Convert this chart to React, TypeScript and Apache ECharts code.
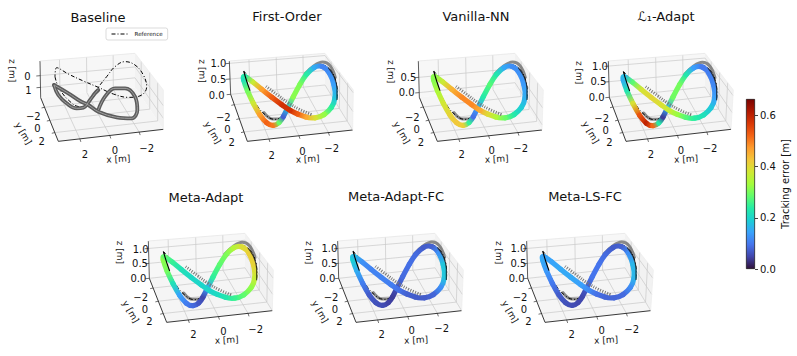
import React, { useEffect, useRef } from "react";
import * as echarts from "echarts";

// Trajectory, in panel units (1 unit = 1/3 px)
const pathX = [157,165,180,200,220,240,260,275,285,300,320,340,360,385,410,427,437,433,415,390,360,335,310,290,260,230,200,175];
const pathY = [225,255,290,330,360,377,375,360,340,310,270,235,210,195,205,235,275,310,335,352,355,347,337,325,303,280,255,235];

// Tracking error [m] at each trajectory point
const errFirstOrder = [.17,.26,.33,.42,.52,.53,.48,.1,.05,.3,.33,.28,.2,.11,.11,.13,.15,.2,.28,.36,.42,.5,.56,.6,.56,.5,.44,.3];
const errVanilla = [.3,.32,.36,.4,.42,.43,.4,.1,.08,.2,.27,.28,.18,.12,.12,.13,.14,.17,.2,.26,.32,.37,.43,.48,.5,.48,.42,.33];
const errL1 = [.14,.17,.28,.5,.58,.62,.42,.05,.03,.27,.32,.28,.18,.1,.1,.11,.12,.16,.2,.23,.25,.3,.35,.38,.4,.41,.36,.2];
const errMetaAdapt = [.3,.33,.27,.17,.12,.09,.08,.05,.05,.22,.27,.29,.32,.38,.41,.42,.4,.34,.3,.27,.24,.22,.2,.2,.2,.21,.23,.27];
const errMetaAdaptFC = [.2,.18,.13,.08,.06,.06,.05,.04,.04,.08,.09,.09,.08,.06,.09,.16,.2,.16,.09,.07,.07,.07,.08,.1,.11,.11,.11,.14];
const errMetaLSFC = [.15,.15,.12,.08,.06,.06,.05,.05,.05,.09,.1,.09,.08,.06,.09,.15,.18,.15,.09,.08,.08,.08,.1,.13,.15,.15,.15,.14];

// Reference and flown traces
const refX = [163,175,200,230,255,275,295,320,345,370,395,420,438,442,425,400,370,335,300,270,230,195,163];
const refY = [215,265,315,348,358,350,320,270,230,205,195,208,245,285,320,340,350,345,330,310,280,250,215];
const refTipX = [161,170,180];
const refTipY = [213,243,272];
const refLoopX = [415,433,441,441];
const refLoopY = [203,232,265,300];
const traceTopX = [345,372,398,420,436];
const traceTopY = [222,197,186,197,232];
const traceLowX = [222,248,268,286];
const traceLowY = [338,357,357,338];
const hatchX = [228,260,295,330,365];
const hatchY = [259,283,309,329,344];

const baseRefX = [165,175,205,240,265,295,320,345,375,405,430,440,425,385,340,295,250,205,170,165];
const baseRefY = [230,260,300,320,310,262,230,200,185,195,225,260,285,292,282,262,243,222,203,230];
const baseTraceAX = [162,175,200,230,250,270,285,295];
const baseTraceAY = [255,285,310,325,323,300,280,270];
const baseTraceBX = [162,205,240,265,295,350,395,412,405,375,345,315,295];
const baseTraceBY = [255,280,303,315,335,352,355,330,290,265,265,290,330];
const baseDotX = [295,340,400];
const baseDotY = [332,350,358];

// Tick labels
const xTicks = ["2", "0", "\u22122"];
const yTicks = ["\u22122", "0", "2"];
const barTicks = [0, 0.2, 0.4, 0.6];
const errorMax = 0.665;

const turbo = ["#30123b","#4145ab","#4675ed","#39a2fc","#1bcfd4","#24eca6","#61fc6c","#a4fc3b","#d1e834","#f3c63a","#fe9b2d","#f36315","#d93806","#b11901","#7a0402"];
const errColor = (e: number) => echarts.color.lerp(Math.min(1, e / errorMax), turbo) as string;

type Pt = [number, number];
const lerp = (a: Pt, b: Pt, t: number): Pt => [a[0] + (b[0] - a[0]) * t, a[1] + (b[1] - a[1]) * t];

const FONT = "'DejaVu Sans'";
const xF = [0.205, 0.49, 0.77];
const yF = [0.22, 0.52, 0.8];

const panels = [
  { title: "Baseline", err: null, ox: 0, oy: 0, cx: 98, cy: 17, dx: 0, dy: 0,
    LT: [120,183], LB: [122,293], FL: [175,424], FR: [490,388],
    z: [["0",0.4,82,228],["1",0.72,85,271]], xl: [[255,462],[345,452],[440,445]], yl: [[100,350],[112,385],[125,425]],
    xn: [355,477], yn: [70,400], zn: [37,212] },
  { title: "First-Order", err: errFirstOrder, ox: 190, oy: 0, cx: 287, cy: 16, dx: 0, dy: 0,
    LT: [118,183], LB: [122,283], FL: [172,424], FR: [488,390],
    z: [["1.0",0.07,85,190],["0.5",0.54,85,237],["0.0",1,80,285]], xl: [[245,465],[337,453],[425,445]], yl: [[100,352],[112,388],[125,428]],
    xn: [353,477], yn: [68,398], zn: [37,213] },
  { title: "Vanilla-NN", err: errVanilla, ox: 380, oy: 0, cx: 476, cy: 16, dx: 0, dy: 0,
    LT: [115,183], LB: [118,292], FL: [172,424], FR: [486,390],
    z: [["0.5",0.45,85,232],["0.0",0.87,80,278]], xl: [[245,463],[335,452],[422,445]], yl: [[97,352],[110,388],[123,428]],
    xn: [350,477], yn: [65,398], zn: [33,215] },
  { title: "\u2112\u2081-Adapt", err: errL1, ox: 570, oy: 0, cx: 666, cy: 16, dx: -1, dy: 1,
    LT: [115,183], LB: [118,292], FL: [168,424], FR: [483,388],
    z: [["1.0",0.14,90,198],["0.5",0.57,85,245],["0.0",1,80,292]], xl: [[243,463],[333,452],[420,445]], yl: [[95,355],[107,390],[118,428]],
    xn: [348,477], yn: [62,397], zn: [28,218] },
  { title: "Meta-Adapt", err: errMetaAdapt, ox: 110, oy: 180, cx: 206, cy: 197, dx: -1, dy: 1,
    LT: [115,183], LB: [118,295], FL: [170,427], FR: [487,392],
    z: [["1.0",0.2,92,207],["0.5",0.6,90,250],["0.0",1,85,296]], xl: [[250,463],[340,455],[437,447]], yl: [[92,352],[105,387],[118,425]],
    xn: [350,480], yn: [62,395], zn: [30,217] },
  { title: "Meta-Adapt-FC", err: errMetaAdaptFC, ox: 300, oy: 180, cx: 396, cy: 196, dx: -2, dy: 0,
    LT: [113,183], LB: [116,295], FL: [168,427], FR: [485,392],
    z: [["1.0",0.2,88,205],["0.5",0.6,88,250],["0.0",1,82,296]], xl: [[245,462],[335,452],[425,445]], yl: [[93,352],[105,387],[118,425]],
    xn: [348,480], yn: [60,395], zn: [27,218] },
  { title: "Meta-LS-FC", err: errMetaLSFC, ox: 490, oy: 180, cx: 585, cy: 196, dx: -3, dy: 0,
    LT: [110,183], LB: [113,295], FL: [165,427], FR: [482,392],
    z: [["1.0",0.2,85,205],["0.5",0.6,85,250],["0.0",1,80,296]], xl: [[245,462],[335,452],[425,447]], yl: [[90,352],[102,388],[115,425]],
    xn: [348,480], yn: [60,395], zn: [27,218] },
] as any[];

function frameRender(p: any) {
  return (_params: any, api: any) => {
    const c = (q: number[]) => api.coord(q);
    const BT: Pt = [405, 160];
    const BB: Pt = [405, 255 + (p.LB[1] - 283) * 0.7];
    const RT: Pt = [490, 270];
    const { LT, LB, FL, FR } = p;
    const poly = (pts: number[][], fill: string) => ({ type: "polygon", shape: { points: pts.map(c) }, style: { fill, stroke: "none" } });
    const line = (a: number[], b: number[], stroke = "#c9c9c9", lineWidth = 0.7) => {
      const A = c(a), B = c(b);
      return { type: "line", shape: { x1: A[0], y1: A[1], x2: B[0], y2: B[1] }, style: { stroke, lineWidth, fill: "none" } };
    };
    const text = (s: string, q: number[], size: number, rotation = 0) => {
      const Q = c(q);
      return { type: "text", x: Q[0], y: Q[1], rotation, style: { text: s, fill: "#111", font: `${size}px ${FONT}`, textAlign: "center", textVerticalAlign: "middle" } };
    };
    const kids: any[] = [poly([LT, BT, BB, LB], "#f7f7f7"), poly([BT, RT, FR, BB], "#f2f2f2"), poly([LB, BB, FR, FL], "#f5f5f5")];
    xF.forEach((f) => {
      kids.push(line(lerp(LT, BT, f), lerp(LB, BB, f)));
      kids.push(line(lerp(LB, BB, f), lerp(FL, FR, f)));
      const e = lerp(FL, FR, f);
      kids.push(line(e, [e[0] + 3, e[1] + 9], "#333"));
    });
    yF.forEach((g) => {
      kids.push(line(lerp(LB, FL, g), lerp(BB, FR, g)));
      kids.push(line(lerp(BT, RT, g), lerp(BB, FR, g)));
      const e = lerp(LB, FL, g);
      kids.push(line(e, [e[0] - 9, e[1] + 2], "#333"));
    });
    p.z.forEach((t: any) => {
      const a = lerp(LT, LB, t[1]);
      kids.push(line(a, lerp(BT, BB, t[1])));
      kids.push(line(lerp(BT, BB, t[1]), lerp(RT, FR, t[1])));
      kids.push(line(a, [a[0] - 12, a[1] + 1], "#333"));
      kids.push(text(t[0], [t[2], t[3]], 10));
    });
    kids.push(line(LT, LB, "#333", 0.8), line(LB, FL, "#222", 0.9), line(FL, FR, "#222", 0.9));
    kids.push(line(LT, BT, "#e4e4e4"), line(BT, RT, "#ececec"), line(RT, FR, "#ececec"));
    xTicks.forEach((t, i) => kids.push(text(t, p.xl[i], 10)));
    yTicks.forEach((t, i) => kids.push(text(t, p.yl[i], 10)));
    kids.push(text("x [m]", p.xn, 9, 0.06), text("y [m]", p.yn, 9, -1.05), text("z [m]", p.zn, 9, -1.57));
    return { type: "group", children: kids };
  };
}

function ribbonRender(pts: number[][]) {
  return (params: any, api: any) => {
    const n = pts.length, i = params.dataIndex;
    const pr = pts[(i - 1 + n) % n], cu = pts[i], nx = pts[(i + 1) % n];
    const a = api.coord([(pr[0] + cu[0]) / 2, (pr[1] + cu[1]) / 2]);
    const m = api.coord([cu[0], cu[1]]);
    const b = api.coord([(nx[0] + cu[0]) / 2, (nx[1] + cu[1]) / 2]);
    const stroke = new echarts.graphic.LinearGradient(a[0], a[1], b[0] + 0.01, b[1] + 0.01, [
      { offset: 0, color: errColor((pr[2] + cu[2]) / 2) },
      { offset: 1, color: errColor((nx[2] + cu[2]) / 2) },
    ], true);
    return {
      type: "bezierCurve",
      shape: { x1: a[0], y1: a[1], x2: b[0], y2: b[1], cpx1: m[0], cpy1: m[1] },
      style: { fill: "none", stroke, lineWidth: 5.2, lineCap: "round" },
    };
  };
}

const zipXY = (xs: number[], ys: number[], dx = 0, dy = 0) => xs.map((x, i) => [x + dx, ys[i] + dy]);
const DASHDOT = [4, 2, 1, 2];

function buildOption() {
  const grid: any[] = [], xAxis: any[] = [], yAxis: any[] = [], series: any[] = [], title: any[] = [];
  panels.forEach((p, k) => {
    grid.push({ left: p.ox, top: p.oy, width: 190, height: 170 });
    xAxis.push({ gridIndex: k, type: "value", min: 0, max: 570, show: false });
    yAxis.push({ gridIndex: k, type: "value", min: 0, max: 510, inverse: true, show: false });
    title.push({ text: p.title, left: p.cx, top: p.cy, padding: 0, textAlign: "center", textVerticalAlign: "middle", textStyle: { fontFamily: FONT, fontSize: 13, fontWeight: "normal", color: "#111" } });
    const axes = { xAxisIndex: k, yAxisIndex: k };
    const ln = (name: string, data: number[][], color: string, width: number, z: number, type: any = "solid", opacity = 1, cap = "butt") => ({
      ...axes, type: "line", name, data, z, smooth: 0.4, symbol: "none", silent: true, clip: false,
      itemStyle: { color },
      lineStyle: { color, width, type, opacity, cap },
    });
    series.push({ ...axes, type: "custom", name: "frame", data: [[0, 0]], z: 1, silent: true, clip: false, renderItem: frameRender(p) });
    if (p.err) {
      const { dx, dy } = p;
      series.push(ln("trace", zipXY(traceTopX, traceTopY, dx, dy), "#666", 3, 2, "solid", 0.75, "round"));
      series.push(ln("trace", zipXY(traceLowX, traceLowY, dx, dy), "#666", 3, 2, "solid", 0.75, "round"));
      series.push(ln("Reference", zipXY(refX, refY, dx, dy), "#000", 1, 3, DASHDOT));
      const pts = pathX.map((x, i) => [x + dx, pathY[i] + dy, p.err[i]]);
      series.push({ ...axes, type: "custom", name: p.title, data: pts, z: 4, silent: true, clip: false, encode: { x: 0, y: 1 }, renderItem: ribbonRender(pts) });
      series.push(ln("trace", zipXY(hatchX, hatchY, dx, dy), "#777", 3, 5, [1, 1.5]));
      series.push(ln("Reference", zipXY(refTipX, refTipY, dx, dy), "#000", 1.1, 6));
      series.push(ln("Reference", zipXY(refLoopX, refLoopY, dx, dy), "#111", 1.1, 6, "solid", 0.8));
    } else {
      series.push(ln("Reference", zipXY(baseRefX, baseRefY), "#000", 1, 3, DASHDOT));
      series.push(ln("trace", zipXY(baseDotX, baseDotY), "#777", 1.5, 3, [1, 1]));
      series.push(ln("trace", zipXY(baseTraceAX, baseTraceAY), "#5c5c5c", 3.8, 4, "solid", 1, "round"));
      series.push(ln("trace", zipXY(baseTraceBX, baseTraceBY), "#5c5c5c", 3.8, 4, "solid", 1, "round"));
      series.push(ln("trace", zipXY(baseTraceAX, baseTraceAY), "#a0a0a0", 1, 5));
      series.push(ln("trace", zipXY(baseTraceBX, baseTraceBY), "#a0a0a0", 1, 5));
    }
  });
  const cb = panels.length;
  grid.push({ left: 746, top: 99, width: 9, height: 170 });
  xAxis.push({ gridIndex: cb, type: "category", data: ["error"], show: false });
  yAxis.push({
    gridIndex: cb, type: "value", position: "right", min: 0, max: errorMax,
    axisLine: { show: false }, splitLine: { show: false },
    axisTick: { show: true, length: 3, lineStyle: { color: "#111", width: 0.8 }, customValues: barTicks },
    axisLabel: { color: "#111", fontFamily: FONT, fontSize: 10, margin: 5, formatter: (v: number) => v.toFixed(1), customValues: barTicks },
    name: "Tracking error [m]", nameLocation: "middle", nameRotate: 90, nameGap: 25,
    nameTextStyle: { fontFamily: FONT, fontSize: 10, color: "#111" },
  });
  series.push({
    type: "bar", xAxisIndex: cb, yAxisIndex: cb, name: "Tracking error", data: [errorMax], barWidth: "100%", silent: true,
    itemStyle: {
      borderColor: "#111", borderWidth: 0.7,
      color: new echarts.graphic.LinearGradient(0, 1, 0, 0, turbo.map((c, i) => ({ offset: i / (turbo.length - 1), color: c }))),
    },
  });
  return {
    animation: false, backgroundColor: "#fff", title, grid, xAxis, yAxis, series,
    tooltip: { show: false },
    legend: {
      data: ["Reference"], left: 106, top: 28, padding: [3, 5, 3, 5], itemWidth: 17, itemHeight: 6, selectedMode: false,
      borderColor: "#ccc", borderWidth: 0.7, borderRadius: 2,
      itemStyle: { opacity: 0 },
      lineStyle: { color: "#000", width: 1, type: DASHDOT },
      textStyle: { fontFamily: FONT, fontSize: 5.6, color: "#111", padding: [0, 0, 0, 1] },
    },
  };
}

export default function App() {
  const ref = useRef<HTMLDivElement>(null);
  useEffect(() => {
    const chart = echarts.init(ref.current!, undefined, { renderer: "svg" });
    chart.setOption(buildOption() as any);
    return () => chart.dispose();
  }, []);
  return <div ref={ref} style={{ position: "absolute", left: 0, top: 0, width: 797, height: 356 }} />;
}
